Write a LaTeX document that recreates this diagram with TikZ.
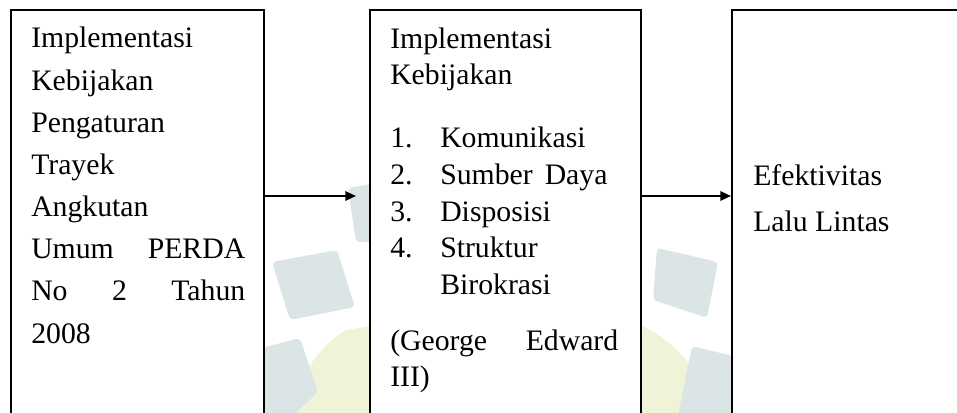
\documentclass[tikz,border=0pt]{standalone}
\usepackage{fontspec}
\setmainfont{Liberation Serif}
\usetikzlibrary{arrows.meta}
\definecolor{wmb}{HTML}{DCE5E6}
\definecolor{wmy}{HTML}{EFF3D8}
\begin{document}
\begin{tikzpicture}[x=0.75pt,y=-0.75pt,
  box/.style={draw=black, line width=1.5pt, fill=white, rectangle, anchor=north west, inner sep=0pt, minimum height=330pt},
  txt/.style={anchor=base west, inner sep=0pt, font=\fontsize{22.3}{26}\selectfont},
  arr/.style={line width=1.5pt, -{Triangle[length=8pt,width=7pt]}},
  wblue/.style={fill=wmb, draw=none, rounded corners=3pt},
  wyel/.style={fill=wmy, draw=none}]
\useasboundingbox (0,0) rectangle (957,413);
\clip (0,0) rectangle (957,413);
% faint watermark
\fill[wyel] (405,425) circle[radius=112];
\fill[wyel] (585,445) circle[radius=132];
\fill[white] (300,330) -- (370,318) -- (370,326) -- (302,338) -- cycle;
\fill[wblue] (272,262) -- (337,250) -- (355,307) -- (290,320) -- cycle;
\fill[wblue] (348,188) -- (372,184) -- (372,242) -- (356,242) -- cycle;
\fill[wblue] (262,348) -- (300,338) -- (318,392) -- (292,416) -- (262,416) -- cycle;
\fill[wblue] (657,248) -- (718,262) -- (707,318) -- (653,300) -- cycle;
\fill[wblue] (692,346) -- (733,356) -- (733,416) -- (678,416) -- cycle;
% boxes
\node[box, minimum width=189.75pt] (b1) at (10,9) {};
\node[box, minimum width=203.25pt] (b2) at (369,9) {};
\node[box, minimum width=200pt] (b3) at (731,9) {};
% arrows
\coordinate (a1) at (356,196);
\draw[arr] (b1.east |- a1) -- (a1);
\draw[arr] (b2.east |- a1) -- (b3.west |- a1);
% box 1 text
\node[txt] (t1a) at (31,48) {Implementasi};
\node[txt] (t1b) at (31,91) {Kebijakan};
\node[txt] (t1c) at (31,133) {Pengaturan};
\node[txt] (t1d) at (31,175) {Trayek};
\node[txt] (t1e) at (31,217) {Angkutan};
\node[txt] (t1f) at (31,259) {\makebox[160.5pt][s]{Umum PERDA}};
\node[txt] (t1g) at (31,301) {\makebox[160.5pt][s]{No 2 Tahun}};
\node[txt] (t1h) at (31,344) {2008};
% box 2 text
\node[txt] (t2a) at (390,49) {Implementasi};
\node[txt] (t2b) at (390,85) {Kebijakan};
\node[txt] (n1) at (390,148) {1.};
\node[txt] (i1) at (440,148) {Komunikasi};
\node[txt] (n2) at (390,185) {2.};
\node[txt] (i2) at (440,185) {Sumber\hspace{9pt}Daya};
\node[txt] (n3) at (390,222) {3.};
\node[txt] (i3) at (440,222) {Disposisi};
\node[txt] (n4) at (390,258) {4.};
\node[txt] (i4) at (440,258) {Struktur};
\node[txt] (i4b) at (440,295) {Birokrasi};
\node[txt] (t2c) at (390,350) {\makebox[171pt][s]{(George Edward}};
\node[txt] (t2d) at (390,387) {III)};
% box 3 text
\node[txt] (t3a) at (753,186) {Efektivitas};
\node[txt] (t3b) at (753,232) {Lalu Lintas};
\end{tikzpicture}
\end{document}
